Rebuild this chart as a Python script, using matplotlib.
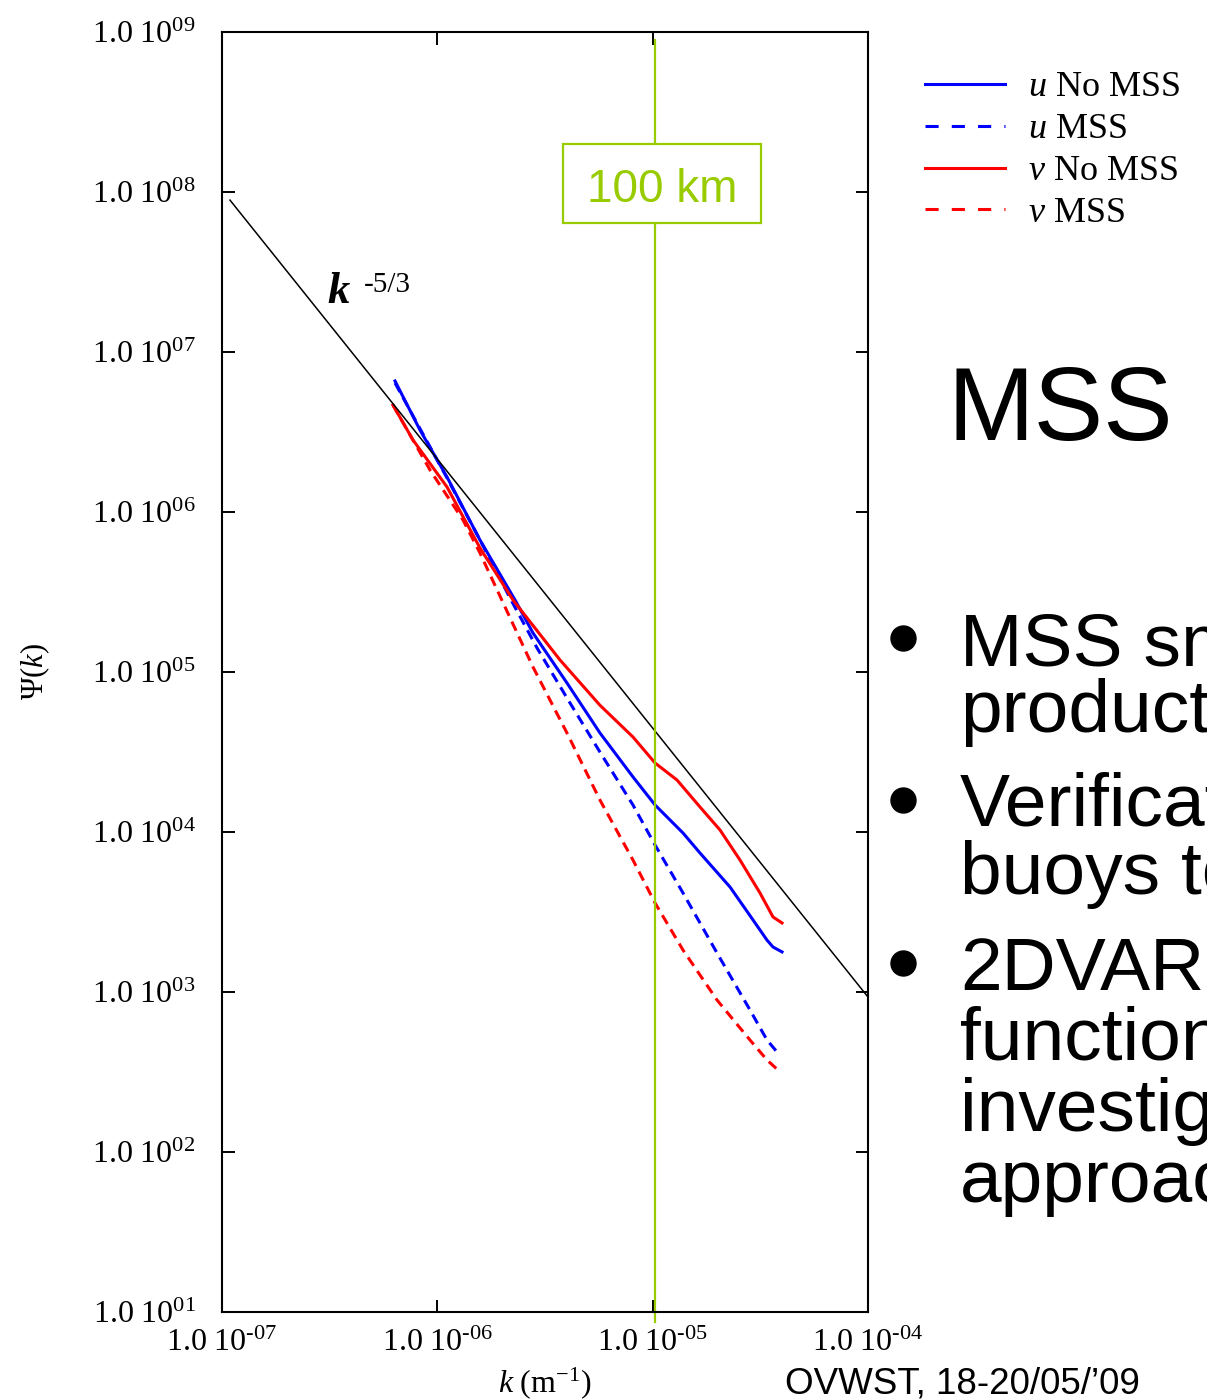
import matplotlib.pyplot as plt
from matplotlib.lines import Line2D
from matplotlib.patches import Rectangle

plt.rcParams['font.family'] = 'Liberation Serif'
plt.rcParams['mathtext.fontset'] = 'custom'
plt.rcParams['mathtext.rm'] = 'Liberation Serif'
plt.rcParams['mathtext.it'] = 'Liberation Serif:italic'
plt.rcParams['mathtext.bf'] = 'Liberation Serif:bold'

# wavenumber k (m^-1) and spectrum Psi(k)
k_u_nomss = [6.36e-7, 8.31e-7, 1.109e-6, 1.578e-6, 2.295e-6, 2.781e-6, 4.00e-6, 5.69e-6,
             8.10e-6, 1.026e-5, 1.383e-5, 1.659e-5, 2.287e-5, 2.924e-5, 3.396e-5, 3.622e-5, 3.988e-5]
psi_u_nomss = [6.59e6, 3.25e6, 1.655e6, 6.68e5, 2.82e5, 1.753e5, 8.54e4, 4.16e4,
               2.21e4, 1.475e4, 9.86e3, 7.39e3, 4.53e3, 2.82e3, 2.11e3, 1.91e3, 1.78e3]

k_u_mss = [6.36e-7, 1.109e-6, 1.578e-6, 2.175e-6, 2.904e-6, 4.00e-6, 5.69e-6,
           8.10e-6, 1.026e-5, 1.383e-5, 1.990e-5, 2.831e-5, 3.396e-5, 3.779e-5]
psi_u_mss = [6.40e6, 1.632e6, 6.68e5, 2.90e5, 1.413e5, 6.88e4, 3.16e4,
             1.475e4, 8.29e3, 4.16e3, 1.753e3, 772, 501, 422]

k_v_nomss = [6.22e-7, 7.71e-7, 1.109e-6, 1.578e-6, 2.246e-6, 3.713e-6, 5.69e-6, 8.10e-6,
             1.026e-5, 1.297e-5, 1.659e-5, 2.055e-5, 2.544e-5, 3.151e-5, 3.622e-5, 3.988e-5]
psi_v_nomss = [4.665e6, 2.818e6, 1.433e6, 5.96e5, 2.818e5, 1.189e5, 6.20e4, 3.925e4,
               2.70e4, 2.113e4, 1.433e4, 1.029e4, 6.68e3, 4.157e3, 2.943e3, 2.70e3]

k_v_mss = [6.22e-7, 9.25e-7, 1.316e-6, 1.578e-6, 2.062e-6, 2.781e-6, 4.00e-6, 5.69e-6,
           8.10e-6, 1.026e-5, 1.383e-5, 1.990e-5, 2.831e-5, 3.396e-5, 3.820e-5]
psi_v_mss = [4.665e6, 1.83e6, 8.91e5, 5.54e5, 2.55e5, 1.075e5, 4.157e4, 1.585e4,
             6.68e3, 3.60e3, 1.83e3, 891, 501, 376, 325]

# k^-5/3 reference line end points
k_ref = [1.089e-7, 1.0e-4]
psi_ref = [8.9e7, 9.3e2]

k_100km = 1.02e-5

x_ticks = [1e-7, 1e-6, 1e-5, 1e-4]
x_tick_labels = [r'$1.0\ 10^{\text{-07}}$', r'$1.0\ 10^{\text{-06}}$',
                 r'$1.0\ 10^{\text{-05}}$', r'$1.0\ 10^{\text{-04}}$']
y_ticks = [1e1, 1e2, 1e3, 1e4, 1e5, 1e6, 1e7, 1e8, 1e9]
y_tick_labels = [r'$1.0\ 10^{0%d}$' % i for i in range(1, 10)]

W, H = 1207, 1399


def fxy(px, py):
    return px / W, 1 - py / H


fig = plt.figure(figsize=(W / 100, H / 100), dpi=100)
ax = fig.add_axes([222 / W, 1 - 1312 / H, (868 - 222) / W, (1312 - 32) / H])

green = '#99CC00'
lw = 2.2
ax.plot(k_u_nomss, psi_u_nomss, color='#0000FF', lw=lw)
ax.plot(k_u_mss, psi_u_mss, color='#0000FF', lw=lw, dashes=(3.3, 2.1))
ax.plot(k_v_nomss, psi_v_nomss, color='#FF0000', lw=lw)
ax.plot(k_v_mss, psi_v_mss, color='#FF0000', lw=lw, dashes=(3.3, 2.1))
ax.plot(k_ref, psi_ref, color='black', lw=1.1)
ax.plot([k_100km, k_100km], [-0.008, 0.994], color=green, lw=1.6,
        transform=ax.get_xaxis_transform(), clip_on=False)

ax.set_xscale('log')
ax.set_yscale('log')
ax.set_xlim(1e-7, 1e-4)
ax.set_ylim(1e1, 1e9)
ax.set_xticks(x_ticks)
ax.set_xticklabels(x_tick_labels)
ax.set_yticks(y_ticks)
ax.set_yticklabels(y_tick_labels)
ax.minorticks_off()
ax.tick_params(which='both', direction='in', length=9, width=1.4,
               top=True, right=True, labelsize=23)
ax.tick_params(axis='y', pad=19)
ax.tick_params(axis='x', pad=12)
for s in ax.spines.values():
    s.set_linewidth(1.5)

ax.set_xlabel(r'$k\ (\mathrm{m}^{-1})$', fontsize=23)
ax.xaxis.set_label_coords(0.5, -(1383 - 1312) / 1280)
ax.xaxis.label.set_va('center')
ax.set_ylabel(r'$\Psi(k)$', fontsize=22)
ax.yaxis.set_label_coords((35 - 222) / 646, 0.5)
ax.yaxis.label.set_va('center')

# k^-5/3 annotation
fig.text(*fxy(327, 303), 'k', fontsize=32, fontweight='bold', fontstyle='italic',
         family='Liberation Serif', va='baseline')
fig.text(*fxy(364, 292), '-5/3', fontsize=21, family='Liberation Serif', va='baseline')

# 100 km box
x0, y0 = fxy(563, 223)
fig.add_artist(Rectangle((x0, y0), (761 - 563) / W, (223 - 144) / H,
                         transform=fig.transFigure, facecolor='white',
                         edgecolor=green, lw=1.6, zorder=5))
fig.text(*fxy(662, 202), '100 km', fontsize=33, color=green, family='Liberation Sans',
         ha='center', va='baseline', zorder=6)

# legend
h1 = Line2D([], [], color='#0000FF', lw=lw)
h2 = Line2D([], [], color='#0000FF', lw=lw, dashes=(4.3, 4.3))
h3 = Line2D([], [], color='#FF0000', lw=lw)
h4 = Line2D([], [], color='#FF0000', lw=lw, dashes=(4.3, 4.3))
fig.legend([h1, h2, h3, h4],
           [r'$u$ No MSS', r'$u$ MSS', r'$v$ No MSS', r'$v$ MSS'],
           loc='upper left', bbox_to_anchor=fxy(925, 71), frameon=False,
           fontsize=26, handlelength=2.22, handletextpad=0.64,
           labelspacing=0.24, borderpad=0, borderaxespad=0)

# slide text to the right (cut off by the slide edge, as in the original)
fig.text(*fxy(948, 440), 'MSS', fontsize=75, family='Liberation Sans', va='baseline')
lines = [('MSS smoothed', 665), ('products', 732), ('Verification', 825),
         ('buoys to', 894), ('2DVAR', 990), ('function', 1060),
         ('investigated', 1131), ('approach', 1202)]
for txt, base in lines:
    fig.text(*fxy(960, base), txt, fontsize=54, family='Liberation Sans', va='baseline')
for by in [638, 800, 963]:
    fig.add_artist(Line2D([903 / W], [1 - by / H], marker='o', markersize=18,
                          color='black', transform=fig.transFigure))

fig.text(*fxy(785, 1394), 'OVWST, 18-20/05/\u201909', fontsize=26.5,
         family='Liberation Sans', va='baseline')

fig.savefig('out.png', dpi=100)
